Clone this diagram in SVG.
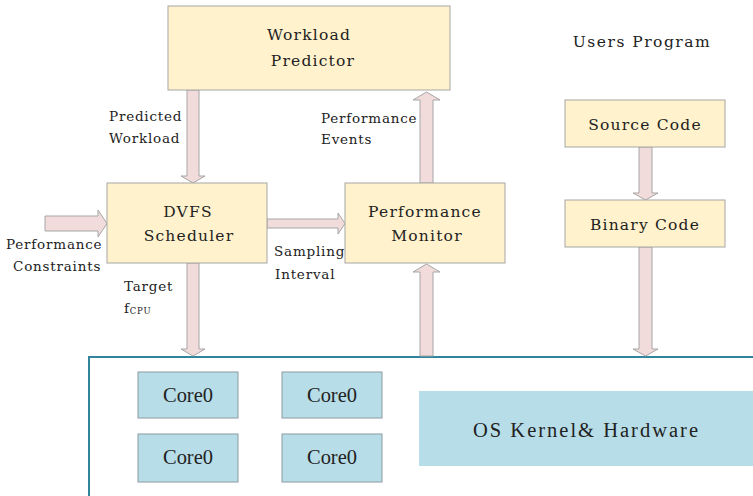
<svg xmlns="http://www.w3.org/2000/svg" width="753" height="496" viewBox="0 0 753 496">
  <style>
    .box { fill: #fff2cc; stroke: #a6a6a6; stroke-width: 1; }
    .core { fill: #b7dde8; stroke: #8c9aa0; stroke-width: 1; }
    .os { fill: #b7dde8; }
    .frame { fill: none; stroke: #31849b; stroke-width: 2; }
    .arrow { fill: #f2dcdb; stroke: #a6a6a6; stroke-width: 1; }
    .t { fill: #222222; font-family: "DejaVu Serif", serif; font-weight: normal; }
    .big { font-size: 15.5px; letter-spacing: 1.2px; text-anchor: middle; }
    .lbl { font-size: 13.5px; letter-spacing: 0.8px; }
    .cond { fill: #222222; font-family: "Liberation Serif", serif; }
    .coretxt { font-size: 21px; text-anchor: middle; }
  </style>

  <!-- system frame: cores, OS kernel and hardware -->
  <g id="system">
    <rect class="frame" x="89" y="357" width="680" height="150"/>
  </g>

  <g id="core-a"><rect class="core" x="138" y="372" width="100" height="46"/><text class="cond coretxt" x="188" y="402" textLength="50" lengthAdjust="spacingAndGlyphs">Core0</text></g>
  <g id="core-b"><rect class="core" x="282" y="372" width="100" height="46"/><text class="cond coretxt" x="332" y="402" textLength="50" lengthAdjust="spacingAndGlyphs">Core0</text></g>
  <g id="core-c"><rect class="core" x="138" y="434" width="100" height="48"/><text class="cond coretxt" x="188" y="464" textLength="50" lengthAdjust="spacingAndGlyphs">Core0</text></g>
  <g id="core-d"><rect class="core" x="282" y="434" width="100" height="48"/><text class="cond coretxt" x="332" y="464" textLength="50" lengthAdjust="spacingAndGlyphs">Core0</text></g>

  <g id="os-kernel">
    <rect class="os" x="419" y="391" width="340" height="75"/>
    <text class="cond" x="473" y="437" font-size="20.5" textLength="225" lengthAdjust="spacing">OS Kernel&amp; Hardware</text>
  </g>

  <!-- connectors: block arrows -->
  <g id="connectors">
    <!-- Workload Predictor -> DVFS Scheduler -->
    <path class="arrow" d="M187,90 H199 V176 H205 L193,183 L181,176 H187 Z"/>
    <!-- Performance Monitor -> Workload Predictor -->
    <path class="arrow" d="M420,183 V100 H413 L426.5,92 L440,100 H433 V183 Z"/>
    <!-- Performance Constraints -> DVFS Scheduler -->
    <path class="arrow" d="M45,216 H98 V210 L107,223.5 L98,237 V231 H45 Z"/>
    <!-- DVFS Scheduler -> Performance Monitor -->
    <path class="arrow" d="M267,219 H338 V213 L345,223.5 L338,234 V228 H267 Z"/>
    <!-- DVFS Scheduler -> system -->
    <path class="arrow" d="M187,263 H199 V349 H205 L193,356 L181,349 H187 Z"/>
    <!-- system -> Performance Monitor -->
    <path class="arrow" d="M420,356 V272 H413 L426.5,264 L440,272 H433 V356 Z"/>
    <!-- Source Code -> Binary Code -->
    <path class="arrow" d="M639,147 H652 V193 H658 L645.5,200 L633,193 H639 Z"/>
    <!-- Binary Code -> system -->
    <path class="arrow" d="M639,247 H652 V349 H658 L645.5,356 L633,349 H639 Z"/>
  </g>

  <g id="workload-predictor">
    <rect class="box" x="168" y="6" width="282" height="84"/>
    <text class="t big" x="309" y="40">Workload</text>
    <text class="t big" x="313" y="66">Predictor</text>
  </g>

  <g id="dvfs-scheduler">
    <rect class="box" x="107" y="183" width="160" height="80"/>
    <text class="t big" x="188" y="217">DVFS</text>
    <text class="t big" x="189" y="241">Scheduler</text>
  </g>

  <g id="performance-monitor">
    <rect class="box" x="345" y="183" width="160" height="80"/>
    <text class="t big" x="425" y="217">Performance</text>
    <text class="t big" x="427" y="241">Monitor</text>
  </g>

  <g id="users-program">
    <text class="t" x="642" y="47" font-size="15.5" letter-spacing="1.5" text-anchor="middle">Users Program</text>
  </g>

  <g id="source-code">
    <rect class="box" x="565" y="100" width="160" height="47"/>
    <text class="t big" x="645" y="130">Source Code</text>
  </g>

  <g id="binary-code">
    <rect class="box" x="565" y="200" width="160" height="47"/>
    <text class="t big" x="645" y="230">Binary Code</text>
  </g>

  <!-- connector labels -->
  <g id="labels">
    <text class="t lbl" x="109" y="121">Predicted</text>
    <text class="t lbl" x="109" y="143">Workload</text>
    <text class="t lbl" x="321" y="123">Performance</text>
    <text class="t lbl" x="321" y="144">Events</text>
    <text class="t lbl" x="6" y="249">Performance</text>
    <text class="t lbl" x="13" y="271">Constraints</text>
    <text class="t lbl" x="274" y="256">Sampling</text>
    <text class="t lbl" x="275" y="279">Interval</text>
    <text class="t lbl" x="124" y="291">Target</text>
    <text class="t lbl" x="124" y="313">f<tspan font-size="8.5" dy="1">CPU</tspan></text>
  </g>
</svg>
